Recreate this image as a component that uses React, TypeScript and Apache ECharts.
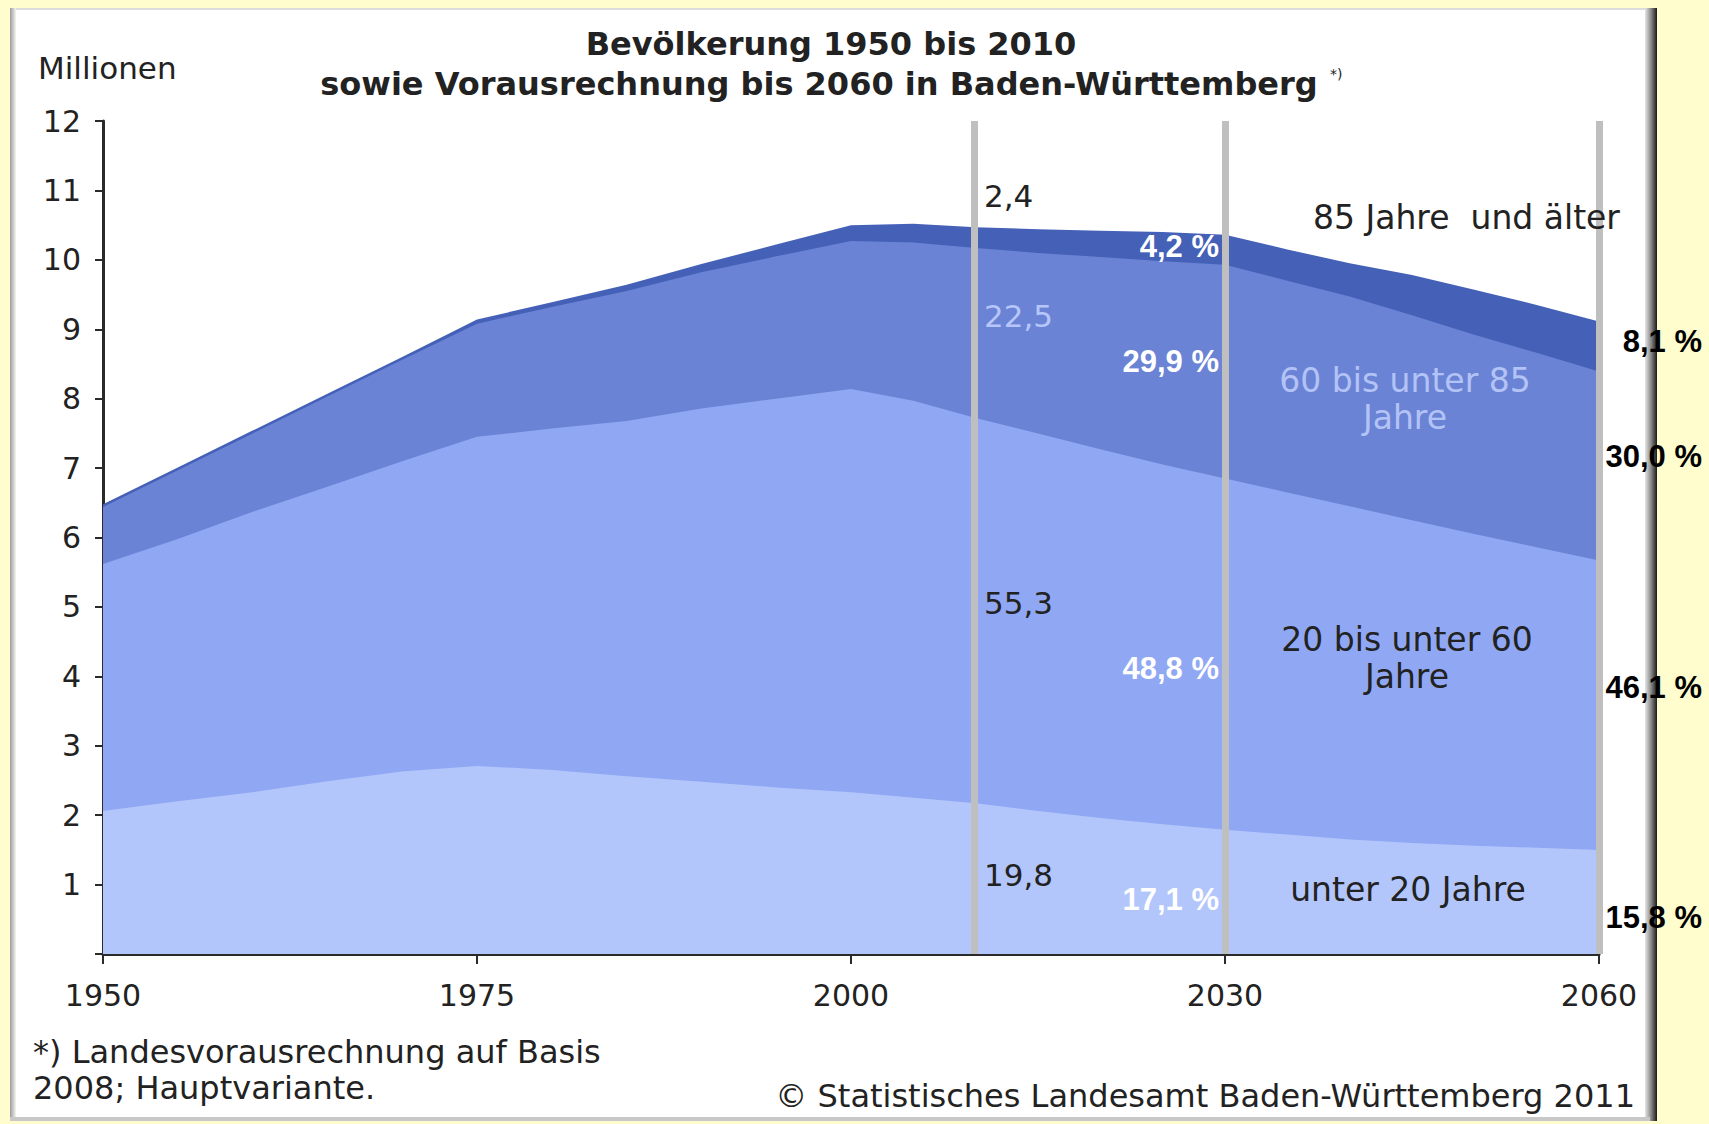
import React, { useEffect, useRef } from "react";
import * as echarts from "echarts";

// ---- data (millions) ----
const years = [1950, 1955, 1960, 1965, 1970, 1975, 1980, 1985, 1990, 1995, 2000, 2005, 2010, 2015, 2020, 2025, 2030, 2035, 2040, 2045, 2050, 2055, 2060];
const under20 = [2.06, 2.2, 2.33, 2.49, 2.63, 2.71, 2.65, 2.56, 2.48, 2.4, 2.33, 2.25, 2.17, 2.06, 1.96, 1.87, 1.79, 1.72, 1.65, 1.6, 1.56, 1.53, 1.5];
const age20to60 = [3.56, 3.78, 4.04, 4.24, 4.47, 4.74, 4.92, 5.12, 5.38, 5.6, 5.81, 5.72, 5.55, 5.44, 5.31, 5.18, 5.06, 4.93, 4.8, 4.65, 4.49, 4.33, 4.17];
const age60to85 = [0.82, 0.99, 1.13, 1.3, 1.46, 1.63, 1.75, 1.87, 1.96, 2.05, 2.13, 2.28, 2.45, 2.6, 2.77, 2.93, 3.08, 3.05, 3.02, 2.95, 2.87, 2.8, 2.72];
const age85plus = [0.04, 0.04, 0.04, 0.04, 0.04, 0.06, 0.07, 0.09, 0.12, 0.17, 0.23, 0.27, 0.3, 0.34, 0.38, 0.42, 0.43, 0.45, 0.48, 0.58, 0.65, 0.69, 0.72];

const tickYears = [1950, 1975, 2000, 2030, 2060];
const markerYears = [2010, 2030, 2060];
const shares2010 = ["2,4", "22,5", "55,3", "19,8"];
const shares2030 = ["4,2 %", "29,9 %", "48,8 %", "17,1 %"];
const shares2060 = ["8,1 %", "30,0 %", "46,1 %", "15,8 %"];
const layerNames = ["unter 20 Jahre", "20 bis unter 60 Jahre", "60 bis unter 85 Jahre", "85 Jahre und älter"];

const colors = ["#b3c6fc", "#90a8f3", "#6a83d5", "#4560b7"];

// the original x axis is piecewise: equal spacing between the labelled years
function yearToPos(y: number): number {
  for (let i = 0; i < tickYears.length - 1; i++) {
    const a = tickYears[i];
    const b = tickYears[i + 1];
    if (y <= b) return i + (y - a) / (b - a);
  }
  return tickYears.length - 1;
}

const FONT = "DejaVu Sans";
const BOLD = "Liberation Sans";
const FS = 31;

export default function App() {
  const ref = useRef<HTMLDivElement>(null);
  useEffect(() => {
    if (!ref.current) return;
    const chart = echarts.init(ref.current, null, { renderer: "svg" });
    const layers = [under20, age20to60, age60to85, age85plus];
    // cumulative tops of each layer
    const cum: number[][] = [];
    layers.forEach((arr, k) => {
      cum.push(arr.map((v, i) => +(v + (k > 0 ? cum[k - 1][i] : 0)).toFixed(3)));
    });
    // draw from the top layer down so each lower layer covers the one above
    const series: any[] = [3, 2, 1, 0].map((k) => ({
      name: layerNames[k],
      type: "line",
      symbol: "none",
      lineStyle: { width: 0 },
      areaStyle: { color: colors[k], opacity: 1 },
      data: years.map((y, i) => [yearToPos(y), cum[k][i]]),
      z: 2,
    }));
    series[3].markLine = {
      silent: true,
      symbol: "none",
      label: { show: false },
      lineStyle: { color: "#bfbfbf", width: 7, type: "solid" },
      data: markerYears.map((y) => ({ xAxis: yearToPos(y) })),
    };

    const txt = (text: string, x: number, y: number, o: any = {}) => ({
      type: "text",
      x,
      y,
      z: 100,
      style: {
        text,
        fontFamily: FONT,
        fontSize: FS,
        fill: "#222",
        textAlign: "left",
        textVerticalAlign: "middle",
        ...o,
      },
    });

    const boldPct = (text: string, x: number, y: number, fill: string) =>
      txt(text, x, y, { fontFamily: BOLD, fontWeight: "bold", fontSize: 31, fill, textAlign: "right" });

    const graphic: any[] = [
      // panel
      { type: "rect", z: -10, shape: { x: 10, y: 8, width: 1647, height: 1113 }, style: { fill: "#ffffff" } },
      { type: "rect", z: -9, shape: { x: 10, y: 8, width: 1647, height: 2 }, style: { fill: "#dcdcdc" } },
      {
        type: "rect", z: -9, shape: { x: 10, y: 8, width: 6, height: 1113 },
        style: { fill: new echarts.graphic.LinearGradient(0, 0, 1, 0, [{ offset: 0, color: "#9c9c9c" }, { offset: 1, color: "#f4f4f4" }]) },
      },
      {
        type: "rect", z: -9, shape: { x: 1645, y: 8, width: 12, height: 1113 },
        style: { fill: new echarts.graphic.LinearGradient(0, 0, 1, 0, [{ offset: 0, color: "#e6e6e6" }, { offset: 0.5, color: "#8a8a8a" }, { offset: 1, color: "#1a1a1a" }]) },
      },
      { type: "rect", z: -9, shape: { x: 10, y: 1117, width: 1640, height: 4 }, style: { fill: "#c8c8c8" } },

      // titles
      txt("Bevölkerung 1950 bis 2010", 831, 44, { fontWeight: "bold", textAlign: "center", fontSize: 32 }),
      txt("sowie Vorausrechnung bis 2060 in Baden-Württemberg", 819, 84, { fontWeight: "bold", textAlign: "center", fontSize: 32 }),
      txt("*)", 1330, 74, { fontSize: 14 }),
      txt("Millionen", 38, 68),

      // 2010 shares
      txt(shares2010[0], 984, 196),
      txt(shares2010[1], 984, 316, { fill: "#b7c6fa" }),
      txt(shares2010[2], 984, 603),
      txt(shares2010[3], 984, 875),

      // 2030 shares
      boldPct(shares2030[0], 1219, 246, "#ffffff"),
      boldPct(shares2030[1], 1219, 361, "#ffffff"),
      boldPct(shares2030[2], 1219, 668, "#ffffff"),
      boldPct(shares2030[3], 1219, 899, "#ffffff"),

      // 2060 shares
      boldPct(shares2060[0], 1702, 341, "#000000"),
      boldPct(shares2060[1], 1702, 456, "#000000"),
      boldPct(shares2060[2], 1702, 687, "#000000"),
      boldPct(shares2060[3], 1702, 917, "#000000"),

      // layer names
      txt("85 Jahre  und älter", 1313, 217, { fontSize: 33 }),
      txt("60 bis unter 85", 1405, 380, { textAlign: "center", fill: "#b4c3f6", fontSize: 33 }),
      txt("Jahre", 1405, 417, { textAlign: "center", fill: "#b4c3f6", fontSize: 33 }),
      txt("20 bis unter 60", 1407, 639, { textAlign: "center", fontSize: 33 }),
      txt("Jahre", 1407, 676, { textAlign: "center", fontSize: 33 }),
      txt("unter 20 Jahre", 1408, 889, { textAlign: "center", fontSize: 33 }),

      // footnotes
      txt("*) Landesvorausrechnung auf Basis", 33, 1052, { fontSize: 32 }),
      txt("2008; Hauptvariante.", 33, 1088, { fontSize: 32 }),
      txt("© Statistisches Landesamt Baden-Württemberg 2011", 1635, 1096, { textAlign: "right", fontSize: 32 }),
    ];

    chart.setOption({
      animation: false,
      backgroundColor: "#fffdce",
      grid: { left: 103, right: 110, top: 121, bottom: 170 },
      xAxis: {
        type: "value",
        min: 0,
        max: tickYears.length - 1,
        interval: 1,
        splitLine: { show: false },
        axisLine: { show: true, lineStyle: { color: "#2a2a2a", width: 3 } },
        axisTick: { show: true, length: 10, lineStyle: { color: "#2a2a2a", width: 2 } },
        axisLabel: {
          formatter: (v: number) => String(tickYears[Math.round(v)] ?? ""),
          fontFamily: FONT,
          fontSize: 30,
          color: "#222",
          margin: 26,
        },
      },
      yAxis: {
        type: "value",
        min: 0,
        max: 12,
        interval: 1,
        splitLine: { show: false },
        axisLine: { show: true, lineStyle: { color: "#2a2a2a", width: 3 } },
        axisTick: { show: true, length: 8, lineStyle: { color: "#2a2a2a", width: 2 } },
        axisLabel: {
          formatter: (v: number) => (v === 0 ? "" : String(v)),
          fontFamily: FONT,
          fontSize: 30,
          color: "#222",
          margin: 22,
        },
      },
      series,
      graphic,
    });
    return () => chart.dispose();
  }, []);

  return (
    <div
      ref={ref}
      style={{ position: "absolute", left: 0, top: 0, width: 1709, height: 1124 }}
    />
  );
}
